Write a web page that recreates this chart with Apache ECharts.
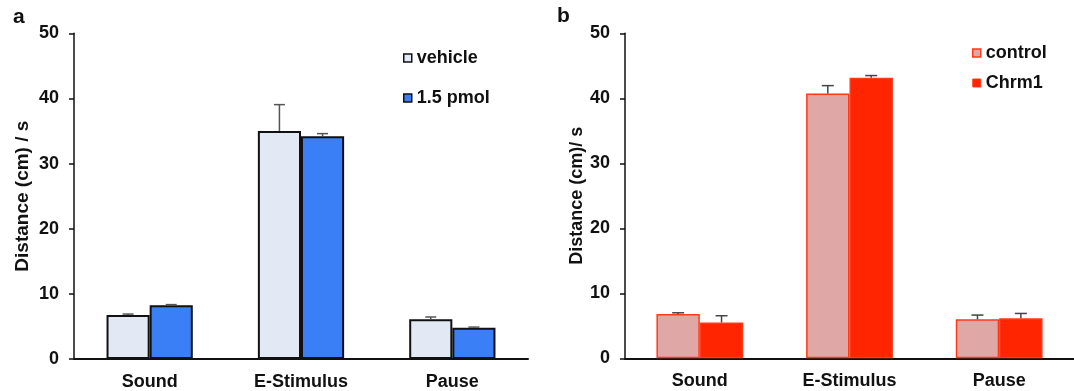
<!DOCTYPE html>
<html>
<head>
<meta charset="utf-8">
<script src="https://cdn.jsdelivr.net/npm/echarts@6/dist/echarts.min.js"></script>
<style>
html,body{margin:0;padding:0;background:#fff;}
#chart{width:1074px;height:391px;}
</style>
</head>
<body>
<div id="chart"></div>
<script>
// ---- data ----
const categories = ['Sound', 'E-Stimulus', 'Pause'];
const yTicks = [0, 10, 20, 30, 40, 50];
// panel a
const vehicle = [6.75, 35.0, 6.1];
const vehicleErr = [6.9, 39.05, 6.45];
const pmol = [8.25, 34.2, 4.8];
const pmolErr = [8.35, 34.6, 4.9];
// panel b
const control = [6.8, 40.75, 6.0];
const controlErr = [7.0, 41.95, 6.65];
const chrm1 = [5.5, 43.15, 6.15];
const chrm1Err = [6.55, 43.5, 6.9];

const FONT = "'Liberation Sans', Arial, Helvetica, sans-serif";
const GAP_A = 0.43, GAP_B = 0.42;

function errData(a, ae, b, be) {
  const out = [];
  for (let i = 0; i < categories.length; i++) {
    out.push([i, 0, a[i], ae[i]]);
    out.push([i, 1, b[i], be[i]]);
  }
  return out;
}

function makeErrRender(gap, cap, color, lw) {
  return function (params, api) {
    const cat = api.value(0), side = api.value(1), v = api.value(2), e = api.value(3);
    const base = api.coord([cat, v]);
    const top = api.coord([cat, e]);
    const bandW = api.size([1, 0])[0];
    const bw = bandW * (1 - gap) / 2;
    const x = base[0] + (side === 0 ? -bw / 2 : bw / 2);
    const st = { stroke: color, lineWidth: lw };
    return {
      type: 'group',
      children: [
        { type: 'line', shape: { x1: x, y1: base[1], x2: x, y2: top[1] }, style: st },
        { type: 'line', shape: { x1: x - cap, y1: top[1], x2: x + cap, y2: top[1] }, style: st }
      ]
    };
  };
}

function yAxis(gridIndex, name, nameGap, nameSize) {
  return {
    type: 'value', gridIndex, min: yTicks[0], max: yTicks[yTicks.length - 1], interval: 10,
    name, nameLocation: 'middle', nameGap,
    nameTextStyle: { fontFamily: FONT, fontWeight: 'bold', fontSize: nameSize, color: '#111' },
    axisLine: { show: true, lineStyle: { color: '#111', width: 1.5 } },
    axisTick: { show: true, length: 5, lineStyle: { color: '#111', width: 1.5 } },
    axisLabel: { margin: 15, fontFamily: FONT, fontWeight: 'bold', fontSize: 18, color: '#111' },
    splitLine: { show: false }
  };
}
function xAxis(gridIndex) {
  return {
    type: 'category', gridIndex, data: categories,
    axisLine: { show: true, lineStyle: { color: '#111', width: 2 } },
    axisTick: { show: false },
    axisLabel: { margin: 14, fontFamily: FONT, fontWeight: 'bold', fontSize: 18, color: '#111' }
  };
}

const cVehicle = '#e2e9f4', cPmol = '#3b7ff6';
const cControl = '#dfa7a6', cChrm = '#ff2500', cRedBorder = '#ff3a1a';

const option = {
  animation: false,
  backgroundColor: '#fff',
  textStyle: { fontFamily: FONT },
  grid: [
    { left: 74, right: 546, top: 33.3, bottom: 32 },
    { left: 625, right: -9, top: 33.3, bottom: 32.7 }
  ],
  xAxis: [xAxis(0), xAxis(1)],
  yAxis: [yAxis(0, 'Distance (cm) / s', 42, 19), yAxis(1, 'Distance (cm)/ s', 38, 18)],
  legend: [
    {
      orient: 'vertical', left: 398, top: 43, itemWidth: 8, itemHeight: 8, itemGap: 20,
      textStyle: { fontFamily: FONT, fontWeight: 'bold', fontSize: 18, color: '#111', lineHeight: 20 },
      data: [
        { name: 'vehicle', icon: 'rect', itemStyle: { color: cVehicle, borderColor: '#111', borderWidth: 1.5 } },
        { name: '1.5 pmol', icon: 'rect', itemStyle: { color: cPmol, borderColor: '#111', borderWidth: 1.5 } }
      ]
    },
    {
      orient: 'vertical', left: 967, top: 38, itemWidth: 8, itemHeight: 8, itemGap: 10,
      textStyle: { fontFamily: FONT, fontWeight: 'bold', fontSize: 18, color: '#111', lineHeight: 20 },
      data: [
        { name: 'control', icon: 'rect', itemStyle: { color: cControl, borderColor: cRedBorder, borderWidth: 1.5 } },
        { name: 'Chrm1', icon: 'rect', itemStyle: { color: cChrm, borderColor: cRedBorder, borderWidth: 1 } }
      ]
    }
  ],
  graphic: [
    { type: 'text', left: 13, top: 7, style: { text: 'a', font: 'bold 21px ' + FONT, fill: '#111' } },
    { type: 'text', left: 557, top: 6, style: { text: 'b', font: 'bold 21px ' + FONT, fill: '#111' } }
  ],
  series: [
    {
      name: 'vehicle', type: 'bar', xAxisIndex: 0, yAxisIndex: 0, data: vehicle,
      barGap: '0%', barCategoryGap: (GAP_A * 100) + '%',
      itemStyle: { color: cVehicle, borderColor: '#111', borderWidth: 2 }
    },
    {
      name: '1.5 pmol', type: 'bar', xAxisIndex: 0, yAxisIndex: 0, data: pmol,
      barGap: '0%', barCategoryGap: (GAP_A * 100) + '%',
      itemStyle: { color: cPmol, borderColor: '#111', borderWidth: 2 }
    },
    {
      name: 'control', type: 'bar', xAxisIndex: 1, yAxisIndex: 1, data: control,
      barGap: '0%', barCategoryGap: (GAP_B * 100) + '%',
      itemStyle: { color: cControl, borderColor: cRedBorder, borderWidth: 1.5 }
    },
    {
      name: 'Chrm1', type: 'bar', xAxisIndex: 1, yAxisIndex: 1, data: chrm1,
      barGap: '0%', barCategoryGap: (GAP_B * 100) + '%',
      itemStyle: { color: cChrm, borderColor: cRedBorder, borderWidth: 1.5 }
    },
    {
      type: 'custom', xAxisIndex: 0, yAxisIndex: 0, z: 5,
      renderItem: makeErrRender(GAP_A, 5.5, '#555', 1.5),
      encode: { x: 0, y: 3 },
      data: errData(vehicle, vehicleErr, pmol, pmolErr)
    },
    {
      type: 'custom', xAxisIndex: 1, yAxisIndex: 1, z: 5,
      renderItem: makeErrRender(GAP_B, 6, '#444', 1.5),
      encode: { x: 0, y: 3 },
      data: errData(control, controlErr, chrm1, chrm1Err)
    }
  ]
};

const chart = echarts.init(document.getElementById('chart'), null, { renderer: 'canvas' });
chart.setOption(option);
</script>
</body>
</html>
